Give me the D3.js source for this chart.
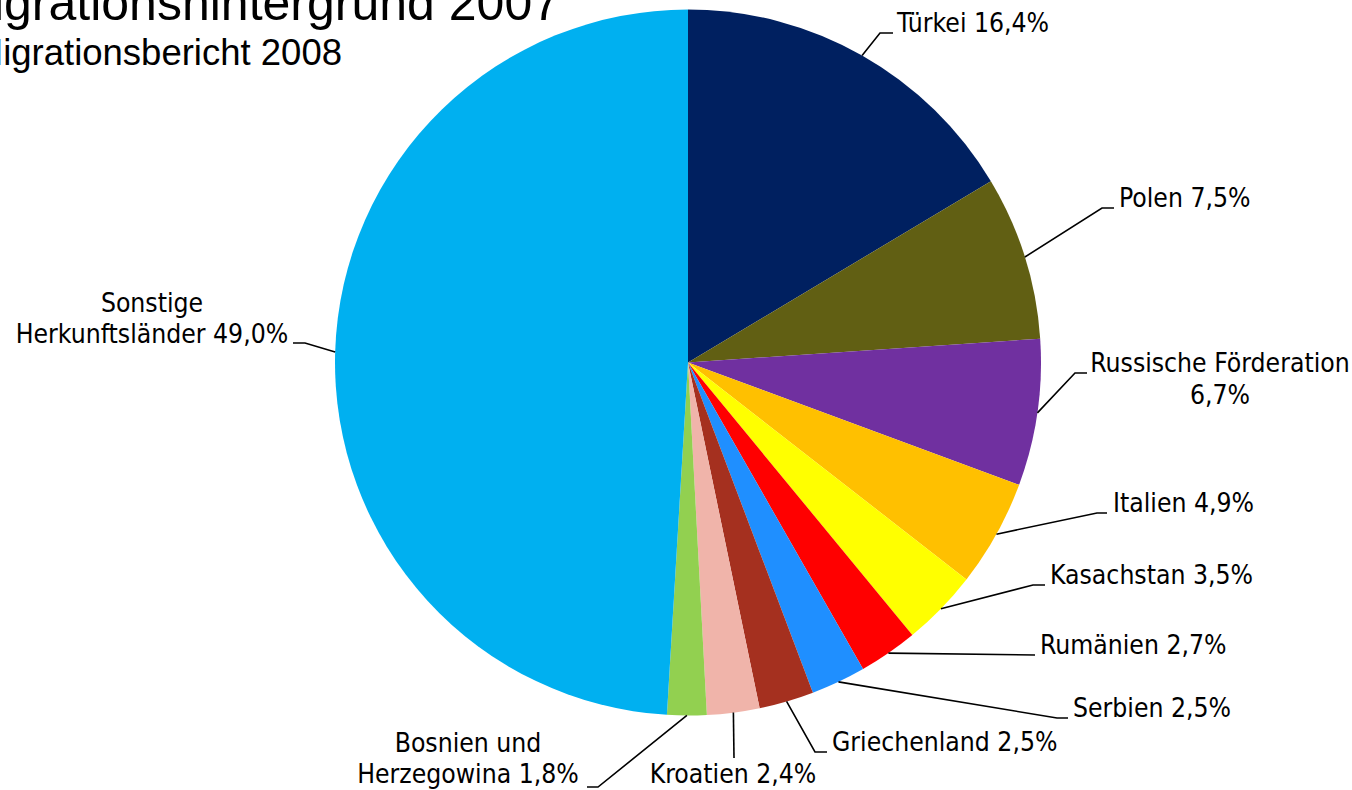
<!DOCTYPE html>
<html><head><meta charset="utf-8">
<script src="https://cdn.jsdelivr.net/npm/d3@7"></script>
<style>
html,body{margin:0;padding:0;background:#fff;overflow:hidden}
svg{display:block}
.lbl{font-family:"DejaVu Sans Condensed","DejaVu Sans",sans-serif;font-stretch:condensed;font-size:26.3px;fill:#000}
.ttl{font-family:"Liberation Sans",Arial,sans-serif;fill:#000}
</style></head>
<body>
<svg id="c" width="1352" height="790"></svg>
<script>
// ---- data ----
const categories = ["Türkei","Polen","Russische Förderation","Italien","Kasachstan","Rumänien","Serbien","Griechenland","Kroatien","Bosnien und Herzegowina","Sonstige Herkunftsländer"];
const shares = [16.4, 7.5, 6.7, 4.9, 3.5, 2.7, 2.5, 2.5, 2.4, 1.8, 49.0];
const labelLines = [
  ["Türkei 16,4%"],
  ["Polen 7,5%"],
  ["Russische Förderation","6,7%"],
  ["Italien 4,9%"],
  ["Kasachstan 3,5%"],
  ["Rumänien 2,7%"],
  ["Serbien 2,5%"],
  ["Griechenland 2,5%"],
  ["Kroatien 2,4%"],
  ["Bosnien und","Herzegowina 1,8%"],
  ["Sonstige","Herkunftsländer 49,0%"]
];
const titleLines = ["Personen mit Migrationshintergrund 2007","Quelle: Migrationsbericht 2008"];
const colors = ["#002060","#615F13","#7030A0","#FFC000","#FFFF00","#FF0000","#1F8FFF","#A5301F","#F0B4AA","#92D050","#00B0F0"];

// ---- layout (positions of label text & leader elbows) ----
const labelLayout = [
  {leader:[[880,33],[893,33]], x:897, y:32, anchor:"start"},
  {leader:[[1102,208],[1114,208]], x:1119, y:207, anchor:"start"},
  {leader:[[1075,373],[1087,373]], x:1220, y:372, anchor:"middle"},
  {leader:[[1097,513],[1107,513]], x:1113, y:512, anchor:"start"},
  {leader:[[1033,585],[1045,585]], x:1050, y:584, anchor:"start"},
  {leader:[[1035,655]], x:1040, y:654, anchor:"start"},
  {leader:[[1057,718],[1068,718]], x:1073, y:717, anchor:"start"},
  {leader:[[815,752],[827,752]], x:832, y:751, anchor:"start"},
  {leader:[[734,758]], x:733, y:783, anchor:"middle", lastAt:true},
  {leader:[[598,787],[587,787]], x:468, y:783, anchor:"middle", lastAt:true},
  {leader:[[305,343],[293,343]], x:152, y:343, anchor:"middle", lastAt:true}
];

const W = 1352, H = 790, cx = 688, cy = 362.5, R = 353;
const svg = d3.select("#c");
const data = categories.map((c,i)=>({name:c, value:shares[i], color:colors[i], lines:labelLines[i], lay:labelLayout[i]}));

const pie = d3.pie().value(d=>d.value).sort(null);
const arc = d3.arc().innerRadius(0).outerRadius(R);
const arcs = pie(data);

const g = svg.append("g").attr("transform",`translate(${cx},${cy})`);
g.selectAll("path").data(arcs).join("path")
  .attr("d", arc).attr("fill", d=>d.data.color).attr("stroke","none");

// leader lines
const lineGen = d3.line();
arcs.forEach(a=>{
  const m = (a.startAngle + a.endAngle)/2;
  const ex = cx + R*Math.sin(m), ey = cy - R*Math.cos(m);
  const pts = [[ex,ey], ...a.data.lay.leader];
  svg.append("path").attr("d", lineGen(pts)).attr("fill","none").attr("stroke","#000").attr("stroke-width",1.6);
});

// labels
const LH = 31.5;
arcs.forEach(a=>{
  const L = a.data.lay, lines = a.data.lines;
  const t = svg.append("text").attr("class","lbl").attr("text-anchor",L.anchor);
  const y0 = L.lastAt ? L.y - (lines.length-1)*LH : L.y;
  lines.forEach((s,i)=>{
    t.append("tspan").attr("x",L.x).attr("y",y0+i*LH).text(s);
  });
});

// title (partially off-canvas at left, as in reference)
svg.append("text").attr("class","ttl").attr("x",560).attr("y",20).attr("text-anchor","end")
  .attr("font-size",50).text(titleLines[0]);
svg.append("text").attr("class","ttl").attr("x",342).attr("y",65).attr("text-anchor","end")
  .attr("font-size",36.5).text(titleLines[1]);
</script>
</body></html>
